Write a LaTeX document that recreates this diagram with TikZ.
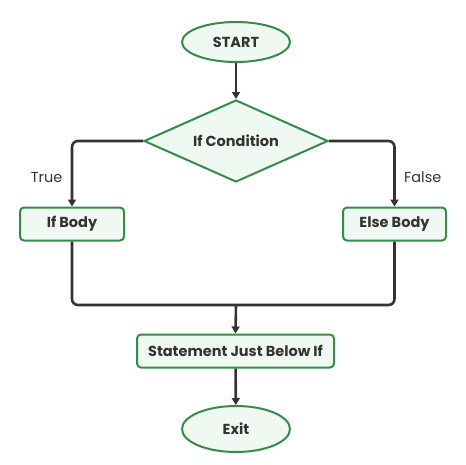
\documentclass[tikz,border=0pt]{standalone}
\usepackage{fontspec}
\setmainfont{Poppins}
\usetikzlibrary{arrows.meta,positioning,shapes.geometric}
\definecolor{boxgreen}{RGB}{52,140,72}
\definecolor{boxfill}{RGB}{240,249,241}
\definecolor{inkgray}{RGB}{51,51,51}
\tikzset{
  term/.style={ellipse, draw=boxgreen, fill=boxfill, line width=2pt, inner sep=0pt,
               font=\fontsize{14.5}{16}\selectfont\bfseries, text=inkgray},
  decision/.style={diamond, aspect=2.24, draw=boxgreen, fill=boxfill, line width=2pt, inner sep=0pt,
               minimum width=184pt, minimum height=82pt,
               font=\fontsize{14.5}{16}\selectfont\bfseries, text=inkgray},
  proc/.style={draw=boxgreen, fill=boxfill, line width=2pt, rounded corners=4pt,
               minimum height=33pt, inner sep=0pt,
               font=\fontsize{14.5}{16}\selectfont\bfseries, text=inkgray},
  flow/.style={-{Triangle[length=7pt,width=8pt]}, inkgray, line width=2.6pt},
  joint/.style={inkgray, line width=2.6pt, rounded corners=6pt},
  branch/.style={font=\fontsize{14.5}{16}\selectfont, text=inkgray},
}
\begin{document}
\begin{tikzpicture}[x=1pt,y=-1pt]
  \useasboundingbox (0,0) rectangle (466,464);
  % shapes
  \node[term, minimum width=108pt, minimum height=40pt] (start) at (236,42) {START};
  \node[decision] (cond) at (236,141) {If Condition};
  \node[proc, minimum width=104pt] (ifb) at (72,224) {If Body};
  \node[proc, minimum width=103pt] (elseb) at (394.5,224) {Else Body};
  \node[proc, minimum width=197pt] (stmt) at (235.5,351) {Statement Just Below If};
  \node[term, minimum width=108pt, minimum height=46pt] (exit) at (236,429) {Exit};
  \coordinate (merge) at (236,305);
  % connectors
  \draw[flow] (start) -- (cond);
  \draw[flow, rounded corners=6pt] (cond.west) -| node[branch, pos=0.78, left=5pt] {True} (ifb.north);
  \draw[flow, rounded corners=6pt] (cond.east) -| node[branch, pos=0.78, right=5pt] {False} (elseb.north);
  \draw[joint] (ifb.south) |- (merge) -| (elseb.south);
  \draw[flow] (merge) -- (stmt.north);
  \draw[flow] (stmt) -- (exit);
\end{tikzpicture}
\end{document}
